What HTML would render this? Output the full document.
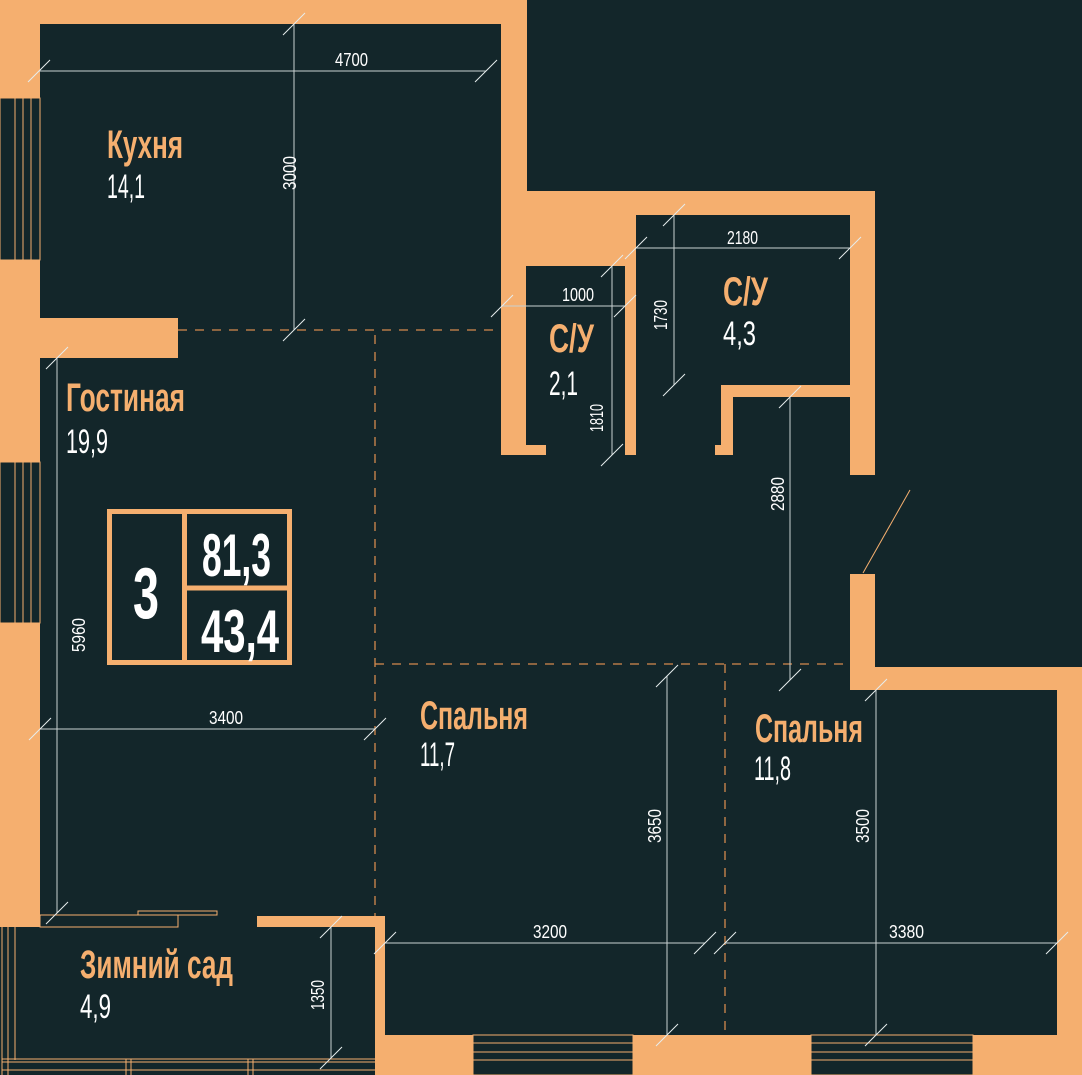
<!DOCTYPE html>
<html><head><meta charset="utf-8"><style>
html,body{margin:0;padding:0;background:#13262a;}
svg{display:block}
.n{font-family:"Liberation Sans Narrow","Liberation Sans",sans-serif;fill:#f5af6f;font-weight:bold}
.v{font-family:"Liberation Sans Narrow","Liberation Sans",sans-serif;fill:#fff}
.d{font-family:"Liberation Sans Narrow","Liberation Sans",sans-serif;fill:#fff;font-size:18px}
</style></head><body>
<svg width="1082" height="1075" viewBox="0 0 1082 1075" xmlns="http://www.w3.org/2000/svg">
<rect width="1082" height="1075" fill="#13262a"/>
<g fill="#f5af6f">
<rect x="0" y="0" width="527" height="24"/>
<rect x="0" y="0" width="40" height="98"/>
<rect x="0" y="260" width="40" height="202"/>
<rect x="0" y="623" width="40" height="304"/>
<rect x="40" y="318" width="138" height="40"/>
<rect x="501" y="0" width="26" height="215"/>
<rect x="501" y="191" width="374" height="24"/>
<rect x="501" y="191" width="135" height="75"/>
<rect x="501" y="191" width="25" height="264"/>
<rect x="501" y="445" width="45" height="10"/>
<rect x="625" y="215" width="11" height="240"/>
<rect x="850" y="191" width="25" height="284"/>
<rect x="721" y="385" width="154" height="12"/>
<rect x="721" y="385" width="12" height="70"/>
<rect x="715" y="445" width="18" height="10"/>
<rect x="850" y="574" width="25" height="116"/>
<rect x="850" y="667" width="232" height="23"/>
<rect x="1057" y="667" width="25" height="408"/>
<rect x="375" y="1035" width="707" height="40"/>
<rect x="375" y="916" width="10" height="159"/>
<rect x="257" y="916" width="128" height="11"/>
</g>
<g fill="#13262a" stroke="#f5af6f" stroke-width="1">
<rect x="0" y="98" width="40" height="162"/>
<rect x="0" y="462" width="40" height="161"/>
<rect x="473" y="1035" width="160" height="40"/>
<rect x="811" y="1035" width="162" height="40"/>
</g>
<g stroke="#f5af6f" stroke-width="1" fill="none">
<line x1="15" y1="98" x2="15" y2="260"/><line x1="23" y1="98" x2="23" y2="260"/><line x1="31" y1="98" x2="31" y2="260"/>
<line x1="15" y1="462" x2="15" y2="623"/><line x1="23" y1="462" x2="23" y2="623"/><line x1="31" y1="462" x2="31" y2="623"/>
<line x1="473" y1="1043" x2="633" y2="1043"/><line x1="473" y1="1052" x2="633" y2="1052"/><line x1="473" y1="1060" x2="633" y2="1060"/>
<line x1="811" y1="1043" x2="973" y2="1043"/><line x1="811" y1="1052" x2="973" y2="1052"/><line x1="811" y1="1060" x2="973" y2="1060"/>
<line x1="2" y1="927" x2="2" y2="1075"/><line x1="8" y1="927" x2="8" y2="1075"/><line x1="15" y1="927" x2="15" y2="1060"/>
<line x1="2" y1="1059" x2="375" y2="1059"/><line x1="2" y1="1062" x2="375" y2="1062"/><line x1="2" y1="1070" x2="375" y2="1070"/>
<line x1="126" y1="1059" x2="126" y2="1075"/><line x1="131" y1="1059" x2="131" y2="1075"/>
<line x1="248" y1="1059" x2="248" y2="1075"/><line x1="253" y1="1059" x2="253" y2="1075"/>
<rect x="40" y="915" width="138" height="12"/>
<rect x="138" y="911" width="79" height="4"/>
<line x1="863" y1="573" x2="910" y2="490"/>
</g>
<g stroke="#d48a4e" stroke-width="1.3" stroke-dasharray="9,8" fill="none">
<line x1="178" y1="330" x2="501" y2="330"/>
<line x1="375" y1="335" x2="375" y2="916"/>
<line x1="375" y1="664" x2="850" y2="664"/>
<line x1="725" y1="664" x2="725" y2="1035"/>
</g>
<g stroke="#c9d2d2" stroke-width="1" fill="none">
<line x1="39" y1="71" x2="486" y2="71"/>
<line x1="294" y1="24" x2="294" y2="330"/>
<line x1="57" y1="358" x2="57" y2="913"/>
<line x1="40" y1="729" x2="375" y2="729"/>
<line x1="502" y1="306" x2="625" y2="306"/>
<line x1="612" y1="266" x2="612" y2="455"/>
<line x1="636" y1="248" x2="850" y2="248"/>
<line x1="674" y1="215" x2="674" y2="385"/>
<line x1="790" y1="397" x2="790" y2="680"/>
<line x1="667" y1="676" x2="667" y2="1035"/>
<line x1="876" y1="690" x2="876" y2="1035"/>
<line x1="385" y1="943" x2="705" y2="943"/>
<line x1="725" y1="943" x2="1057" y2="943"/>
<line x1="331" y1="927" x2="331" y2="1058"/>
</g>
<g stroke="#e6ecec" stroke-width="1" fill="none">
<path d="M28 82 L50 60 M283 35 L305 13 M475 82 L497 60 M283 341 L305 319 M46 369 L68 347 M46 924 L68 902 M29 740 L51 718 M364 740 L386 718 M491 317 L513 295 M614 317 L636 295 M601 277 L623 255 M601 466 L623 444 M625 259 L647 237 M839 259 L861 237 M663 226 L685 204 M663 396 L685 374 M779 408 L801 386 M779 691 L801 669 M656 687 L678 665 M656 1046 L678 1024 M865 701 L887 679 M865 1046 L887 1024 M374 954 L396 932 M694 954 L716 932 M714 954 L736 932 M1046 954 L1068 932 M320 938 L342 916 M320 1069 L342 1047"/>
</g>
<g fill="none" stroke="#f5af6f" stroke-width="5">
<rect x="109.5" y="511.5" width="180" height="151"/>
<line x1="184.5" y1="511" x2="184.5" y2="663"/>
<line x1="184" y1="588" x2="290" y2="588"/>
</g>
<text class="v" x="133" y="618" font-size="72" font-weight="bold" textLength="26" lengthAdjust="spacingAndGlyphs">3</text>
<text class="v" x="202" y="576" font-size="60" font-weight="bold" textLength="69" lengthAdjust="spacingAndGlyphs">81,3</text>
<text class="v" x="201" y="652" font-size="60" font-weight="bold" textLength="78" lengthAdjust="spacingAndGlyphs">43,4</text>
<text class="n" x="107" y="158" font-size="40" textLength="76" lengthAdjust="spacingAndGlyphs">Кухня</text>
<text class="v" x="107" y="198" font-size="34" textLength="38" lengthAdjust="spacingAndGlyphs">14,1</text>
<text class="n" x="66" y="411" font-size="40" textLength="119" lengthAdjust="spacingAndGlyphs">Гостиная</text>
<text class="v" x="66" y="453" font-size="34" textLength="42" lengthAdjust="spacingAndGlyphs">19,9</text>
<text class="n" x="549" y="352" font-size="40" textLength="45" lengthAdjust="spacingAndGlyphs">С/У</text>
<text class="v" x="549" y="395" font-size="34" textLength="29" lengthAdjust="spacingAndGlyphs">2,1</text>
<text class="n" x="723" y="305" font-size="40" textLength="45" lengthAdjust="spacingAndGlyphs">С/У</text>
<text class="v" x="723" y="345" font-size="34" textLength="33" lengthAdjust="spacingAndGlyphs">4,3</text>
<text class="n" x="420" y="729" font-size="40" textLength="108" lengthAdjust="spacingAndGlyphs">Спальня</text>
<text class="v" x="420" y="766" font-size="34" textLength="35" lengthAdjust="spacingAndGlyphs">11,7</text>
<text class="n" x="755" y="742" font-size="40" textLength="108" lengthAdjust="spacingAndGlyphs">Спальня</text>
<text class="v" x="754" y="780" font-size="34" textLength="37" lengthAdjust="spacingAndGlyphs">11,8</text>
<text class="n" x="80" y="978" font-size="40" textLength="153" lengthAdjust="spacingAndGlyphs">Зимний сад</text>
<text class="v" x="80" y="1018" font-size="34" textLength="31" lengthAdjust="spacingAndGlyphs">4,9</text>
<text class="d" x="335" y="66" textLength="33" lengthAdjust="spacingAndGlyphs">4700</text>
<text class="d" x="209" y="724" textLength="34" lengthAdjust="spacingAndGlyphs">3400</text>
<text class="d" x="562" y="301" textLength="32" lengthAdjust="spacingAndGlyphs">1000</text>
<text class="d" x="727" y="244" textLength="31" lengthAdjust="spacingAndGlyphs">2180</text>
<text class="d" x="533" y="938" textLength="34" lengthAdjust="spacingAndGlyphs">3200</text>
<text class="d" x="889" y="938" textLength="35" lengthAdjust="spacingAndGlyphs">3380</text>
<text class="d" transform="translate(296,190) rotate(-90)" textLength="34" lengthAdjust="spacingAndGlyphs">3000</text>
<text class="d" transform="translate(85,652) rotate(-90)" textLength="34" lengthAdjust="spacingAndGlyphs">5960</text>
<text class="d" transform="translate(603,432) rotate(-90)" textLength="28" lengthAdjust="spacingAndGlyphs">1810</text>
<text class="d" transform="translate(667,330) rotate(-90)" textLength="30" lengthAdjust="spacingAndGlyphs">1730</text>
<text class="d" transform="translate(784,511) rotate(-90)" textLength="34" lengthAdjust="spacingAndGlyphs">2880</text>
<text class="d" transform="translate(661,843) rotate(-90)" textLength="34" lengthAdjust="spacingAndGlyphs">3650</text>
<text class="d" transform="translate(869,843) rotate(-90)" textLength="34" lengthAdjust="spacingAndGlyphs">3500</text>
<text class="d" transform="translate(324,1010) rotate(-90)" textLength="30" lengthAdjust="spacingAndGlyphs">1350</text>
</svg>
</body></html>
